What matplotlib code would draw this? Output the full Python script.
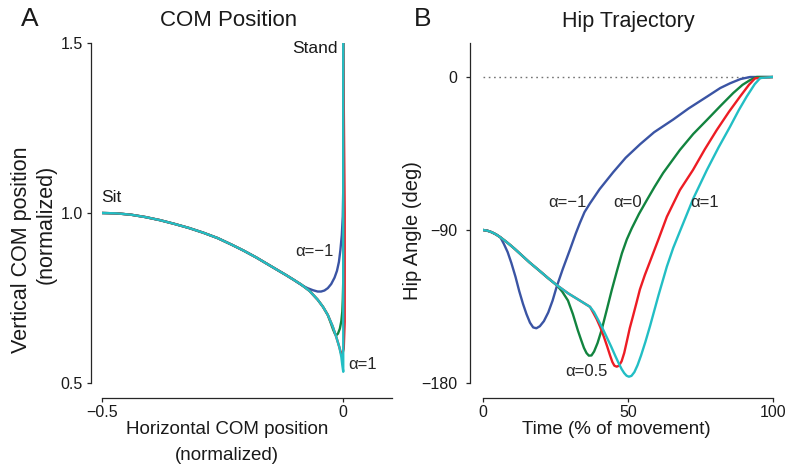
import matplotlib.pyplot as plt

plt.rcParams['font.family'] = ['Liberation Sans', 'DejaVu Sans']

W, H = 788, 471

ALPHAS = [-1, 0, 0.5, 1]
COLORS = {-1: '#3a54a4', 0: '#12843f', 0.5: '#ed1c24', 1: '#22bec4'}

# --- panel A: COM path, normalized units ---
# common part of the path leaving the seat
arc_x = [-0.5, -0.47, -0.44, -0.41, -0.38, -0.35, -0.32, -0.29, -0.26, -0.23, -0.206,
         -0.18, -0.155, -0.136, -0.118, -0.101, -0.0875, -0.07, -0.053, -0.042, -0.032,
         -0.022, -0.0146, -0.008, -0.004]
arc_y = [1.000, 0.999, 0.995, 0.988, 0.979, 0.968, 0.956, 0.942, 0.926, 0.906, 0.889,
         0.869, 0.848, 0.832, 0.817, 0.802, 0.790, 0.771, 0.745, 0.724, 0.700,
         0.667, 0.636, 0.605, 0.577]

# where each alpha leaves the common path, then its own tail up to standing
split_x = {-1: -0.101, 0: -0.032, 0.5: -0.0146, 1: -0.004}
tail_x = {
    -1: [-0.094, -0.084, -0.074, -0.063, -0.053, -0.046, -0.039, -0.032, -0.025, -0.018,
         -0.013, -0.009, -0.006, -0.003, -0.001, 0.0, 0.0],
    0: [-0.026, -0.021, -0.017, -0.014, -0.011, -0.007, -0.004, -0.002, -0.001, 0.0, 0.0],
    0.5: [-0.008, -0.005, -0.002, 0.001, 0.003, 0.003, 0.0],
    1: [-0.002, 0.0, 0.0],
}
tail_y = {
    -1: [0.795, 0.786, 0.779, 0.773, 0.769, 0.769, 0.772, 0.779, 0.791, 0.810,
         0.830, 0.856, 0.890, 0.935, 0.990, 1.070, 1.500],
    0: [0.677, 0.657, 0.644, 0.641, 0.645, 0.660, 0.682, 0.710, 0.745, 0.800, 1.500],
    0.5: [0.605, 0.589, 0.585, 0.600, 0.680, 1.000, 1.500],
    1: [0.553, 0.533, 1.500],
}

# --- panel B: hip angle (deg) vs time (% of movement) ---
trunk_t = [0, 1.5, 3, 4.5, 6, 8, 9.5, 11, 12.8, 16, 19.7, 22.5, 25.4, 29.4, 33.4, 36.9]
trunk_ang = [-90, -90.4, -91.3, -92.6, -94.3, -96.9, -99, -101.2, -104, -109, -114.3,
             -118.4, -122.4, -127.3, -131.5, -135.2]

split_t = {-1: 6, 0: 25.4, 0.5: 36.9, 1: 36.9}
hip_t = {
    -1: [7.2, 8.5, 9.8, 11.2, 12.5, 13.8, 15, 16.2, 17.3, 18.4, 19.6, 21, 22.5, 24,
         25.4, 27.5, 30, 32, 33.4, 35, 36.9, 40.2, 44.9, 49.2, 54.2, 59, 65.6, 70.9,
         77.2, 81.8, 85.2, 88.8, 92.1, 100],
    0: [27.3, 29.3, 31, 32.7, 33.8, 34.8, 35.7, 36.5, 37.4, 38.3, 39.5, 40.9, 42.6,
        44.4, 46.2, 47.9, 49.6, 51.3, 53.8, 56.5, 59.2, 62.1, 67.9, 72.5, 77.2, 82,
        86.3, 89.5, 92.1, 94.4, 100],
    0.5: [38, 39.2, 40.4, 41.6, 42.8, 43.8, 44.6, 45.3, 46.1, 46.9, 47.8, 48.7, 49.6,
          50.6, 51.7, 52.9, 54.1, 55.8, 57.6, 60.5, 63.4, 67.9, 72.4, 76.5, 80.6,
          84.8, 88.6, 91.7, 93.8, 100],
    1: [38.3, 39.6, 41.1, 42.6, 44.2, 45.6, 46.8, 47.8, 48.7, 49.5, 50.3, 51.2, 52.2,
        53.3, 54.5, 56, 57.6, 60.5, 63.4, 65.6, 67.9, 72.5, 77.2, 81.2, 85.2, 88.2,
        90.9, 93.7, 95.6, 100],
}
hip_ang = {
    -1: [-98.2, -103, -109.5, -117.5, -126, -133.5, -139.5, -144.5, -147.3, -147.8, -146.6,
         -143.6, -138.5, -131.5, -123.4, -113, -101.5, -92, -85.9, -79.5, -74.3, -66,
         -56, -47.5, -39.5, -32.5, -25, -18.5, -11.6, -6.5, -3.7, -1.2, 0, 0],
    0: [-126.2, -131.5, -139.5, -149, -154.5, -159.3, -162.4, -163.9, -163.8, -161.5,
        -156.5, -148.8, -137.5, -125.3, -114, -103.7, -95.5, -89, -80.5, -72.4, -64.5,
        -56.5, -42.9, -33.5, -25.3, -16.8, -9.4, -4.6, -1.8, 0, 0],
    0.5: [-138.6, -142.4, -147, -152.4, -158.4, -163.7, -167.6, -169.8, -170.4, -169.8,
          -167.2, -162.3, -155.5, -147.8, -140.8, -133, -125, -116.5, -108.5, -95.5,
          -82.2, -66.5, -54.7, -42.5, -31.2, -20.5, -11.6, -4.6, -0.8, 0],
    1: [-138.3, -142.5, -147.4, -152.8, -158.6, -164, -168.4, -171.8, -174.2, -175.7,
        -176.3, -175.8, -173.6, -169.5, -163.8, -155.8, -146.5, -128.5, -111.5,
        -100.5, -90.8, -71.5, -54.7, -41.5, -29.2, -19.5, -11.6, -4.2, -0.6, 0],
}


def px_axes(fig, left, top, right, bottom):
    return fig.add_axes([left / W, 1 - bottom / H, (right - left) / W, (bottom - top) / H])


def style_axes(ax, left_off, bottom_off, ypad):
    for side in ['top', 'right']:
        ax.spines[side].set_visible(False)
    ax.spines['left'].set_position(('outward', left_off))
    ax.spines['bottom'].set_position(('outward', bottom_off))
    for side in ['left', 'bottom']:
        ax.spines[side].set_linewidth(0.9)
        ax.spines[side].set_color('0.15')
    ax.tick_params(axis='both', direction='out', length=3, width=0.9, color='0.15',
                   labelsize=11.5, labelcolor='0.1')
    ax.tick_params(axis='y', pad=ypad)
    ax.tick_params(axis='x', pad=2)


def ftext(x, y, s, **kw):
    fig.text(x / W, 1 - y / H, s, color='0.1', **kw)


fig = plt.figure(figsize=(W / 100, H / 100), dpi=100)

# panel A
axA = px_axes(fig, 102, 43, 391.5, 383)
for a in ALPHAS:
    n = sum(1 for x in arc_x if x <= split_x[a])
    xs = arc_x[:n] + tail_x[a]
    ys = arc_y[:n] + tail_y[a]
    axA.plot(xs, ys, color=COLORS[a], lw=1.7, solid_capstyle='butt', solid_joinstyle='round')
axA.set_xlim(-0.5, 0.1)
axA.set_ylim(0.5, 1.5)
axA.set_xticks([-0.5, 0], ['\u22120.5', '0'])
axA.set_yticks([0.5, 1.0, 1.5], ['0.5', '1.0', '1.5'])
style_axes(axA, 8, 11, 3)

axA.text(-0.011, 1.485, 'Stand', fontsize=12.5, ha='right', va='center', color='0.1')
axA.text(-0.502, 1.047, 'Sit', fontsize=12.5, ha='left', va='center', color='0.1')
axA.text(-0.06, 0.886, '\u03b1=\u22121', fontsize=12, ha='center', va='center', color='0.15')
axA.text(0.041, 0.553, '\u03b1=1', fontsize=12, ha='center', va='center', color='0.15')

# panel B
axB = px_axes(fig, 483, 43, 773, 383)
axB.axhline(0, color='0.45', lw=1.0, ls=(0, (1.2, 2.6)))
for a in ALPHAS:
    n = sum(1 for t in trunk_t if t <= split_t[a])
    ts = trunk_t[:n] + hip_t[a]
    angs = trunk_ang[:n] + hip_ang[a]
    axB.plot(ts, angs, color=COLORS[a], lw=1.7, solid_joinstyle='round')
axB.set_xlim(0, 100)
axB.set_ylim(-180, 20)
axB.set_xticks([0, 50, 100], ['0', '50', '100'])
axB.set_yticks([-180, -90, 0], ['\u2212180', '\u221290', '0'])
style_axes(axB, 9.5, 11, 6)

axB.text(29.0, -74, '\u03b1=\u22121', fontsize=12, ha='center', va='center', color='0.15')
axB.text(50.0, -74, '\u03b1=0', fontsize=12, ha='center', va='center', color='0.15')
axB.text(76.5, -74, '\u03b1=1', fontsize=12, ha='center', va='center', color='0.15')
axB.text(35.5, -173.3, '\u03b1=0.5', fontsize=12, ha='center', va='center', color='0.15')

# panel letters, titles and axis labels
ftext(21, 19, 'A', fontsize=19, ha='left', va='center')
ftext(414, 19, 'B', fontsize=19, ha='left', va='center')
ftext(229, 21, 'COM Position', fontsize=16, ha='center', va='center')
ftext(628, 21, 'Hip Trajectory', fontsize=15.5, ha='center', va='center')

ftext(227, 430, 'Horizontal COM position', fontsize=13.5, ha='center', va='center')
ftext(227, 455, '(normalized)', fontsize=13.5, ha='center', va='center')
ftext(616, 430, 'Time (% of movement)', fontsize=13.5, ha='center', va='center')

ftext(22, 250, 'Vertical COM position', fontsize=15.5, ha='center', va='center', rotation=90)
ftext(46, 224, '(normalized)', fontsize=15.5, ha='center', va='center', rotation=90)
ftext(412, 231, 'Hip Angle (deg)', fontsize=14.5, ha='center', va='center', rotation=90)

fig.savefig('out.png', dpi=100)
